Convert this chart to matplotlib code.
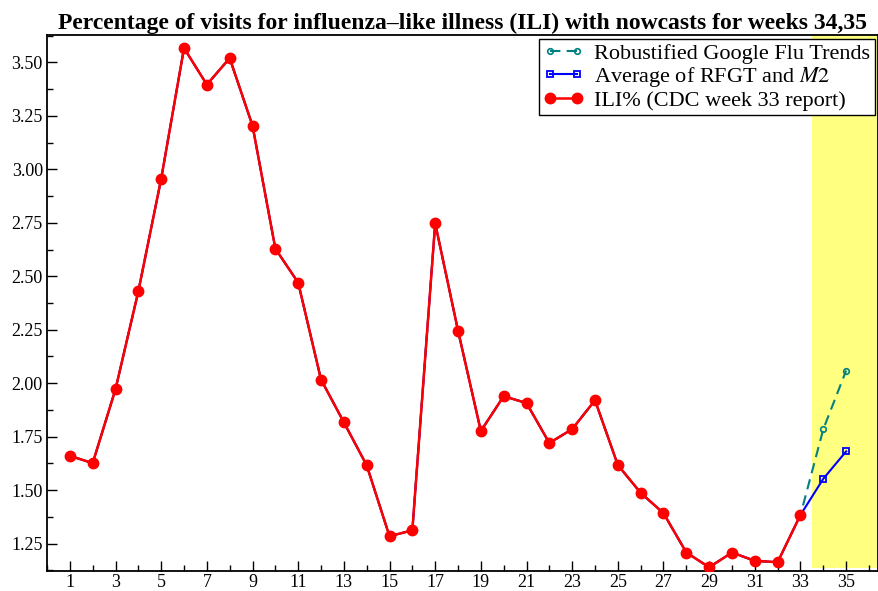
import numpy as np
import matplotlib
matplotlib.use("Agg")
import matplotlib.pyplot as plt
from matplotlib.ticker import MultipleLocator

# semanas observadas (relatorio CDC semana 33)
weeks = list(range(1, 34))
ili = [1.660, 1.626, 1.972, 2.430, 2.956, 3.567, 3.396, 3.520, 3.204, 2.629,
       2.470, 2.017, 1.817, 1.616, 1.284, 1.312, 2.748, 2.246, 1.776, 1.939,
       1.907, 1.720, 1.785, 1.920, 1.617, 1.487, 1.392, 1.208, 1.139, 1.208,
       1.169, 1.163, 1.384]

# nowcasts semanas 34,35
now_weeks = [33, 34, 35]
rfgt = [1.384, 1.785, 2.059]
avg_m2 = [1.384, 1.553, 1.681]

xticks = list(range(1, 36, 2))

plt.rcParams["font.family"] = ["Liberation Serif", "DejaVu Serif"]
plt.rcParams["mathtext.fontset"] = "stix"

fig = plt.figure(figsize=(8.79, 5.91), dpi=100)
ax = fig.add_axes([0.0535, 0.034, 0.9455, 0.906])

ax.axvspan(33.5, 36.4, ymin=0.006, ymax=1, color="#ffff80", zorder=0, lw=0)

ax.plot(weeks + now_weeks[1:], ili + rfgt[1:], color="#008080", ls=(0, (5, 3)),
        lw=1.5, marker="o", ms=4, mfc="none", mew=1.2, markevery=[33, 34],
        label="Robustified Google Flu Trends", zorder=2)
ax.plot(weeks + now_weeks[1:], ili + avg_m2[1:], color="#0000ff", lw=1.5,
        marker="s", ms=5, mfc="none", mew=1.3, markevery=[33, 34],
        label="Average of RFGT and $M2$", zorder=3)
ax.plot(weeks, ili, color="#ff0000", lw=1.8, marker="o", ms=7.5,
        label="ILI% (CDC week 33 report)", zorder=4)

ax.set_xlim(0, 36.4)
ax.set_ylim(1.122, 3.626)
ax.set_xticks(xticks)
ax.xaxis.set_minor_locator(MultipleLocator(1))
ax.yaxis.set_major_locator(MultipleLocator(0.25))
ax.yaxis.set_minor_locator(MultipleLocator(0.125))
ax.yaxis.set_major_formatter(matplotlib.ticker.FormatStrFormatter("%.2f"))
ax.tick_params(which="both", direction="in", top=False, right=False,
               labelsize=13, width=1)
ax.tick_params(which="major", length=7)
ax.tick_params(which="minor", length=4)
ax.tick_params(axis="x", pad=2)
ax.tick_params(axis="y", pad=3)
for s in ax.spines.values():
    s.set_linewidth(1.3)

ax.set_title("Percentage of visits for influenza\u2013like illness (ILI) with nowcasts for weeks 34,35",
             fontsize=17, fontweight="bold", pad=5)

leg = ax.legend(loc="upper right", numpoints=2, fontsize=16, fancybox=False,
                framealpha=1, edgecolor="black", borderpad=0.2, labelspacing=0.05,
                handlelength=1.8, handletextpad=0.5, borderaxespad=0.15)
leg.get_frame().set_linewidth(1)

fig.savefig("out.png", dpi=100)
